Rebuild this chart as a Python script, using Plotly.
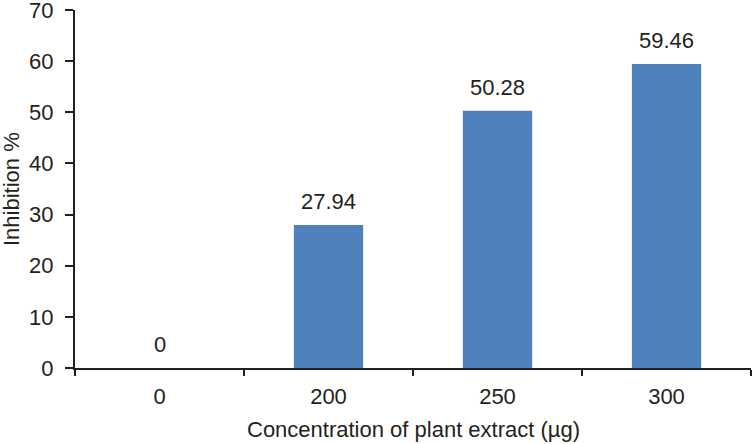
import plotly.graph_objects as go

categories = ["0", "200", "250", "300"]
inhibition = [0, 27.94, 50.28, 59.46]
value_labels = ["0", "27.94", "50.28", "59.46"]

AXIS = "#231f20"
FONT = "Liberation Sans, Arial, sans-serif"
FS = 22

fig = go.Figure()
fig.add_trace(go.Bar(x=categories, y=inhibition, marker=dict(color="#4f81bd", line=dict(width=0)),
                     hoverinfo="skip"))

for i, (v, t) in enumerate(zip(inhibition, value_labels)):
    fig.add_annotation(x=i, y=v, xref="x", yref="y", text=t, showarrow=False, yanchor="bottom", yshift=9,
                       font=dict(family=FONT, size=FS, color=AXIS))

fig.add_annotation(x=0.5, y=0, xref="paper", yref="paper", yshift=-61, yanchor="middle",
                   text="Concentration of plant extract (µg)", showarrow=False,
                   font=dict(family=FONT, size=FS, color=AXIS))
fig.add_annotation(x=0, y=0.5, xref="paper", yref="paper", xshift=-64, xanchor="center", yanchor="middle",
                   textangle=-90, text="Inhibition %", showarrow=False,
                   font=dict(family=FONT, size=FS, color=AXIS))

fig.update_layout(
    width=752, height=444,
    margin=dict(l=75, r=1, t=10, b=76, autoexpand=False),
    paper_bgcolor="white", plot_bgcolor="white",
    bargap=0.59, showlegend=False,
    font=dict(family=FONT, size=FS, color=AXIS),
)
fig.update_xaxes(
    type="category", categoryorder="array", categoryarray=categories,
    range=[-0.5, len(categories) - 0.5], automargin=False,
    showline=True, linecolor=AXIS, linewidth=2,
    ticks="outside", tickson="boundaries", ticklen=6, tickwidth=2, tickcolor=AXIS,
    ticklabelstandoff=8,
    showgrid=False, zeroline=False,
    tickfont=dict(family=FONT, size=FS, color=AXIS),
)
fig.update_yaxes(
    range=[0, 70], tick0=0, dtick=10, tickmode="linear", automargin=False,
    ticklabeloverflow="allow", ticklabelstandoff=7,
    showline=True, linecolor=AXIS, linewidth=2,
    ticks="outside", ticklen=8, tickwidth=2, tickcolor=AXIS,
    showgrid=False, zeroline=False,
    tickfont=dict(family=FONT, size=FS, color=AXIS),
)

fig.write_html("out.html", config={"displayModeBar": False},
               post_script="document.body.style.margin='0';")
